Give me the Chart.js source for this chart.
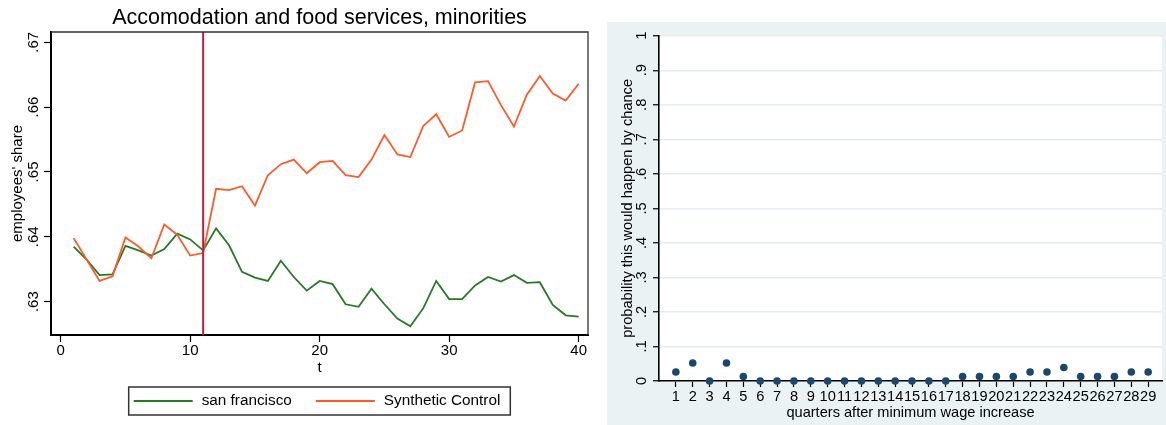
<!DOCTYPE html>
<html lang="en">
<head>
<meta charset="UTF-8">
<title>Accomodation and food services, minorities</title>
<script src="https://cdn.jsdelivr.net/npm/chart.js"></script>
<style>
    body { margin: 0; background: #fff; }
    #left { position: absolute; left: 0; top: 0; }
    #right { position: absolute; left: 607px; top: 22px; background: #eaf2f3; }
</style>
</head>
<body>
<canvas id="left" width="600" height="425"></canvas>
<canvas id="right" width="559" height="403"></canvas>
<script>
    // left panel: employees' share, san francisco vs synthetic control
    const T = [1, 2, 3, 4, 5, 6, 7, 8, 9, 10, 11, 12, 13, 14, 15, 16, 17, 18, 19, 20,
        21, 22, 23, 24, 25, 26, 27, 28, 29, 30, 31, 32, 33, 34, 35, 36, 37, 38, 39, 40];
    const SAN_FRANCISCO = [.6385, .6365, .6341, .6342, .6386, .6379, .6371, .6381, .6405, .6396,
        .6379, .6413, .6387, .6346, .6337, .6332, .6363, .6338, .6317, .6332,
        .6327, .6296, .6292, .6320, .6296, .6274, .6262, .6290, .6332, .6304,
        .6304, .6325, .6338, .6331, .6341, .6329, .6330, .6295, .6279, .6277];
    const SYNTHETIC = [.6398, .6365, .6332, .6339, .6399, .6385, .6367, .6419, .6403, .6371,
        .6375, .6474, .6472, .6478, .6448, .6495, .6512, .6519, .6498, .6515,
        .6517, .6495, .6492, .6519, .6557, .6527, .6523, .6571, .6589, .6554,
        .6564, .6638, .6640, .6603, .6570, .6619, .6648, .6621, .6610, .6636];
    const T_TICKS = [0, 10, 20, 30, 40];
    const SHARE_TICKS = [.63, .64, .65, .66, .67];
    const TREATMENT_T = 11;

    // right panel: p-values by quarter
    const QUARTERS = [1, 2, 3, 4, 5, 6, 7, 8, 9, 10, 11, 12, 13, 14, 15, 16, 17, 18, 19, 20,
        21, 22, 23, 24, 25, 26, 27, 28, 29];
    const PROB = [.026, .052, 0, .052, .013, 0, 0, 0, 0, 0, 0, 0, 0, 0, 0, 0, 0,
        .013, .013, .013, .013, .026, .026, .039, .013, .013, .013, .026, .026];
    const PROB_TICKS = [0, .1, .2, .3, .4, .5, .6, .7, .8, .9, 1];

    const FONT = '"Liberation Sans", Arial, sans-serif';
    Chart.defaults.font.family = FONT;
    Chart.defaults.color = '#000';

    const pts = (xs, ys) => xs.map((x, i) => ({ x: x, y: ys[i] }));
    const stata = v => v === 0 || v === 1 ? String(v) : String(v).replace(/^0/, '');

    // frame, title, treatment line and boxed legend (Stata look)
    const stataDecor = {
        id: 'stataDecor',
        beforeDraw(chart, args, o) {
            if (!o.plotFill) return;
            const a = chart.chartArea, ctx = chart.ctx;
            ctx.save();
            ctx.fillStyle = o.plotFill;
            ctx.fillRect(a.left, a.top, a.right - a.left, a.bottom - a.top);
            ctx.restore();
        },
        afterDatasetsDraw(chart, args, o) {
            if (o.eventAt == null) return;
            const a = chart.chartArea, ctx = chart.ctx;
            const x = chart.scales.x.getPixelForValue(o.eventAt);
            ctx.save();
            ctx.strokeStyle = o.eventColor;
            ctx.lineWidth = 2;
            ctx.beginPath();
            ctx.moveTo(x, a.top);
            ctx.lineTo(x, a.bottom);
            ctx.stroke();
            ctx.restore();
        },
        afterDraw(chart, args, o) {
            const a = chart.chartArea, ctx = chart.ctx;
            const cx = (a.left + a.right) / 2;
            ctx.save();
            if (o.frame) {
                ctx.strokeStyle = '#333';
                ctx.lineWidth = 1.3;
                ctx.beginPath();
                ctx.moveTo(a.left, a.top);
                ctx.lineTo(a.right, a.top);
                ctx.lineTo(a.right, a.bottom);
                ctx.stroke();
            }
            if (o.title) {
                ctx.fillStyle = '#000';
                ctx.font = o.titleSize + 'px ' + FONT;
                ctx.textAlign = 'center';
                ctx.textBaseline = 'alphabetic';
                ctx.fillText(o.title, cx, o.titleY);
            }
            if (o.legend) {
                const ds = chart.data.datasets;
                ctx.font = o.legendSize + 'px ' + FONT;
                const widths = ds.map(d => ctx.measureText(d.label).width);
                const lineLen = 59, gap = 9, sep = 24, padL = 5, padR = 10;
                let total = padL + padR + sep * (ds.length - 1);
                widths.forEach(w => { total += lineLen + gap + w; });
                const x0 = cx - total / 2, y = o.legendY, h = 28;
                ctx.strokeStyle = '#333';
                ctx.lineWidth = 1.5;
                ctx.strokeRect(x0, y - h / 2, total, h);
                let x = x0 + padL;
                ctx.textAlign = 'left';
                ctx.textBaseline = 'middle';
                ds.forEach((d, i) => {
                    ctx.strokeStyle = d.borderColor;
                    ctx.lineWidth = 2;
                    ctx.beginPath();
                    ctx.moveTo(x, y);
                    ctx.lineTo(x + lineLen, y);
                    ctx.stroke();
                    ctx.fillStyle = '#000';
                    ctx.fillText(d.label, x + lineLen + gap, y);
                    x += lineLen + gap + widths[i] + sep;
                });
            }
            ctx.restore();
        }
    };

    new Chart(document.getElementById('left'), {
        type: 'line',
        data: {
            datasets: [{
                label: 'san francisco',
                data: pts(T, SAN_FRANCISCO),
                borderColor: '#267a26',
                borderWidth: 1.8,
                pointRadius: 0,
                order: 2
            }, {
                label: 'Synthetic Control',
                data: pts(T, SYNTHETIC),
                borderColor: '#ff5a28',
                borderWidth: 1.8,
                pointRadius: 0,
                order: 1
            }]
        },
        plugins: [stataDecor],
        options: {
            responsive: false,
            animation: false,
            layout: { padding: { left: 0, right: 12, top: 32, bottom: 47 } },
            plugins: {
                legend: { display: false },
                tooltip: { enabled: false },
                stataDecor: {
                    frame: true,
                    title: 'Accomodation and food services, minorities',
                    titleSize: 21.5,
                    titleY: 23.5,
                    legend: true,
                    legendSize: 15.3,
                    legendY: 401,
                    eventAt: TREATMENT_T,
                    eventColor: '#c21b45'
                }
            },
            scales: {
                x: {
                    type: 'linear',
                    min: -0.75,
                    max: 40.72,
                    afterBuildTicks: s => { s.ticks = T_TICKS.map(v => ({ value: v })); },
                    afterFit: s => { s.height = 43; },
                    ticks: { font: { size: 15 }, padding: 0, maxRotation: 0, minRotation: 0, autoSkip: false },
                    grid: { drawOnChartArea: false, tickLength: 7, tickColor: '#000', tickWidth: 1.2 },
                    border: { color: '#000', width: 2 },
                    title: { display: true, text: 't', font: { size: 15 }, padding: { top: 0, bottom: 1 } }
                },
                y: {
                    min: .62486,
                    max: .67158,
                    afterBuildTicks: s => { s.ticks = SHARE_TICKS.map(v => ({ value: v })); },
                    afterFit: s => { s.width = 51; },
                    ticks: {
                        font: { size: 15 }, padding: 0, minRotation: 90, maxRotation: 90,
                        crossAlign: 'center', callback: v => stata(v)
                    },
                    grid: { drawOnChartArea: false, tickLength: 7, tickColor: '#000', tickWidth: 1.2 },
                    border: { color: '#000', width: 2 },
                    title: { display: true, text: "employees' share", font: { size: 15 }, padding: { top: 8.5, bottom: 0 } }
                }
            }
        }
    });

    new Chart(document.getElementById('right'), {
        type: 'scatter',
        data: {
            datasets: [{
                label: 'probability this would happen by chance',
                data: pts(QUARTERS, PROB),
                backgroundColor: '#1a476f',
                borderColor: '#1a476f',
                pointRadius: 3.8,
                borderWidth: 0,
                clip: false
            }]
        },
        plugins: [stataDecor],
        options: {
            responsive: false,
            animation: false,
            layout: { padding: { left: 0, right: 0, top: 8, bottom: 1 } },
            plugins: {
                legend: { display: false },
                tooltip: { enabled: false },
                stataDecor: { plotFill: '#fff' }
            },
            scales: {
                x: {
                    type: 'linear',
                    min: 0,
                    max: 29.82,
                    afterBuildTicks: s => { s.ticks = QUARTERS.map(v => ({ value: v })); },
                    afterFit: s => { s.height = 43; },
                    ticks: { font: { size: 14.6 }, padding: 1, maxRotation: 0, minRotation: 0, autoSkip: false },
                    grid: { drawOnChartArea: false, tickLength: 6, tickColor: '#000', tickWidth: 1.2 },
                    border: { color: '#000', width: 1.6 },
                    title: {
                        display: true, text: 'quarters after minimum wage increase',
                        font: { size: 14.6 }, padding: { top: 0, bottom: 2 }
                    }
                },
                y: {
                    min: 0,
                    max: 1,
                    afterBuildTicks: s => { s.ticks = PROB_TICKS.map(v => ({ value: v })); },
                    afterFit: s => { s.width = 52; },
                    ticks: {
                        font: { size: 14.6 }, padding: 5, minRotation: 90, maxRotation: 90,
                        crossAlign: 'center', callback: v => stata(v)
                    },
                    grid: { color: '#e3ecef', lineWidth: 1.5, tickLength: 6, tickColor: '#000', tickWidth: 1.2 },
                    border: { color: '#000', width: 1.6 },
                    title: {
                        display: true, text: 'probability this would happen by chance',
                        font: { size: 14.6 }, padding: { top: 12, bottom: 0 }
                    }
                }
            }
        }
    });
</script>
</body>
</html>
